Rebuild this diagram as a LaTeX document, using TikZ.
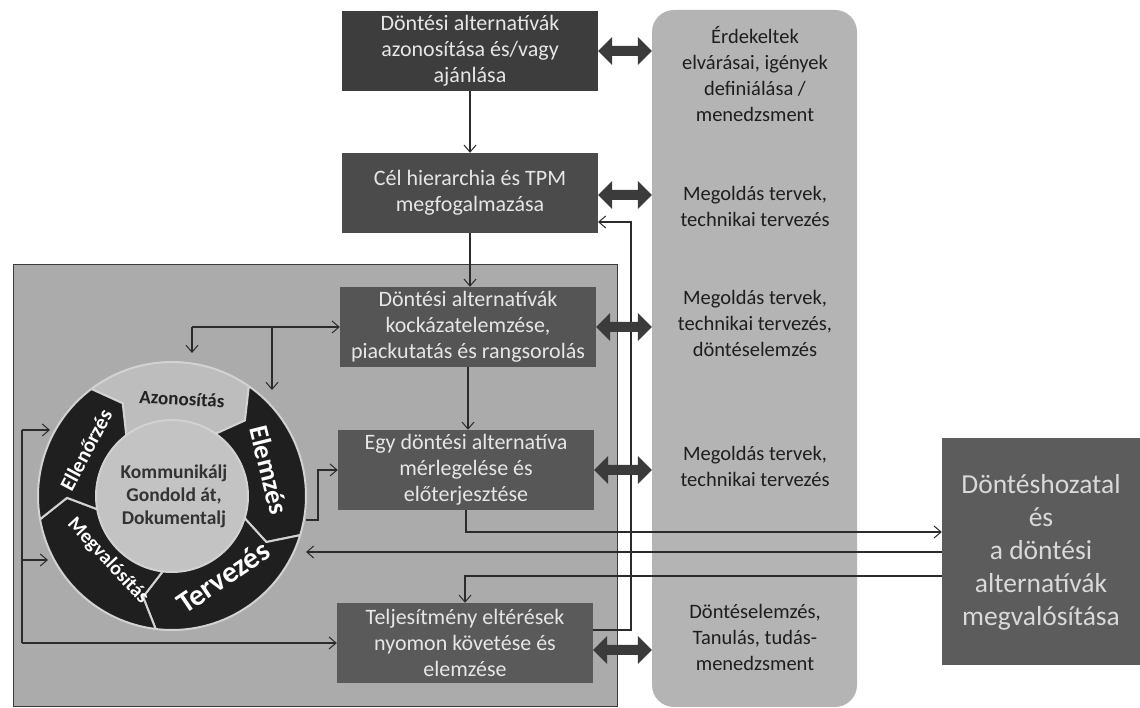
\documentclass[tikz,border=0pt]{standalone}
\usepackage{fontspec}
\setmainfont{Carlito}
\usetikzlibrary{calc,arrows.meta}
\definecolor{graypanel}{HTML}{ABABAB}
\definecolor{panelborder}{HTML}{3A3A3A}
\definecolor{rightpanel}{HTML}{B4B4B4}
\definecolor{bonec}{HTML}{3D3D3D}
\definecolor{btwoc}{HTML}{4B4B4B}
\definecolor{bthreec}{HTML}{555555}
\definecolor{bfourc}{HTML}{575757}
\definecolor{bfivec}{HTML}{5A5A5A}
\definecolor{dboxc}{HTML}{5C5C5C}
\definecolor{boxtext}{HTML}{E6E6E6}
\definecolor{dtext}{HTML}{D9D9D9}
\definecolor{ptextc}{HTML}{1E1E1E}
\definecolor{linec}{HTML}{2B2B2B}
\definecolor{dblc}{HTML}{3B3B3B}
\definecolor{segdark}{HTML}{1F1F1F}
\definecolor{azc}{HTML}{BDBDBD}
\definecolor{centc}{HTML}{C3C3C3}
\definecolor{gapc}{HTML}{D2D2D2}
\definecolor{ctext}{HTML}{333333}
\definecolor{ringdark}{HTML}{222222}
\newcommand{\dblarrow}[2]{%
  \fill[dblc] (#1) -- ++(14,14) -- ++(0,-9) -- ($(#2)+(-14,5)$) -- ++(0,9) -- (#2)
    -- ++(-14,-14) -- ++(0,9) -- ($(#1)+(14,-5)$) -- ++(0,-9) -- cycle;}
\newcommand{\ringseg}[3]{%
  \filldraw[fill=#3, draw=gapc, line width=2pt, line join=round]
    ($(cc)+(#1:134)$) arc[start angle=#1, end angle=#2, radius=134]
    -- ($(cc)+({#2-9}:105)$) -- ($(cc)+(#2:76)$)
    arc[start angle=#2, end angle=#1, radius=76]
    -- ($(cc)+({#1-9}:105)$) -- cycle;}
\begin{document}
\begin{tikzpicture}[x=1pt,y=1pt,
  box/.style={fill=#1, minimum width=256pt, minimum height=80pt, inner sep=2pt,
    align=center, text=boxtext, font=\fontsize{22}{26}\selectfont},
  ptext/.style={align=center, text=ptextc, font=\fontsize{20.5}{26}\selectfont},
  ringlbl/.style={inner sep=0pt, text=white, font=\fontsize{#1}{#1}\selectfont\bfseries},
  conn/.style={draw=linec, line width=1.1pt},
  arr/.style={conn, -{Straight Barb[length=7pt,width=12pt,line width=1pt]}},
]
\useasboundingbox (0,0) rectangle (1140,708);
\fill[white] (0,0) rectangle (1140,708);

% panels
\node[draw=panelborder, line width=0.8pt, fill=graypanel, minimum width=604pt,
  minimum height=442pt, inner sep=0pt] (lp) at (315,223) {};
\node[fill=rightpanel, rounded corners=22pt, minimum width=205pt,
  minimum height=697pt, inner sep=0pt] (rp) at (754.5,349.5) {};

% panel texts
\node[ptext] (t1) at (755,634) {Érdekeltek\\elvárásai, igények\\definiálása /\\menedzsment};
\node[ptext] (t2) at (755,502) {Megoldás tervek,\\technikai tervezés};
\node[ptext] (t3) at (755,385) {Megoldás tervek,\\technikai tervezés,\\döntéselemzés};
\node[ptext] (t4) at (755,242) {Megoldás tervek,\\technikai tervezés};
\node[ptext] (t5) at (755,71) {Döntéselemzés,\\Tanulás, tudás-\\menedzsment};

% ring
\coordinate (cc) at (172,212);
\fill[centc] (cc) circle (76);
\ringseg{127}{55}{azc}
\ringseg{55}{-17}{segdark}
\ringseg{-17}{-97}{segdark}
\ringseg{-97}{-170}{segdark}
\ringseg{190}{127}{segdark}
\node[align=center, font=\fontsize{19.5}{23}\selectfont\bfseries, text=ctext] (ctr)
  at (174,212) {Kommunikálj\\Gondold át,\\Dokumentalj};
\node[ringlbl=19, text=ringdark, rotate=-3] (lAz) at (182,309) {Azonosítás};
\node[ringlbl=27, rotate=-76] (lEl) at (269,238) {Elemzés};
\node[ringlbl=30, rotate=34] (lTe) at (223,131) {Tervezés};
\node[ringlbl=20, rotate=-47] (lMe) at (108,147) {Megvalósítás};
\node[ringlbl=21, rotate=62] (lEn) at (86,258) {Ellenőrzés};

% connectors (behind boxes)
\coordinate (fbx) at (631,0);
\coordinate (fbs) at (592.5,78);
\draw[arr] (fbs) -- (fbs -| fbx) |- (598,486);
\node[box=dboxc, minimum width=198pt, minimum height=227pt, text=dtext,
  font=\fontsize{27.5}{33}\selectfont] (D) at (1041,156)
  {Döntéshozatal\\és\\a döntési\\alternatívák\\megvalósítása};
\coordinate (dIn) at ($(D.west)+(0,20)$);
\coordinate (dOut) at ($(D.west)+(0,-24)$);
\coordinate (cyR) at (306,156);
\draw[arr] (D.west) -- (cyR);

% boxes
\node[box=bonec] (b1) at (470,657) {Döntési alternatívák\\azonosítása és/vagy\\ajánlása};
\node[box=btwoc] (b2) at (470,515) {Cél hierarchia és TPM\\megfogalmazása};
\node[box=bthreec] (b3) at (468,381) {Döntési alternatívák\\kockázatelemzése,\\piackutatás és rangsorolás};
\node[box=bfourc] (b4) at (466,238) {Egy döntési alternatíva\\mérlegelése és\\előterjesztése};
\node[box=bfivec] (b5) at (465,65) {Teljesítmény eltérések\\nyomon követése és\\elemzése};

\draw[arr] (b1.south) -- (b2.north);
\draw[arr] (b2.south) -- (b2.south |- b3.north);
\draw[arr] (b3.south) -- (b3.south |- b4.north);
\draw[arr] (b4.south) |- (dIn);
\draw[arr] (dOut) -| (b5.north);

% cycle connectors
\coordinate (lj) at (192,381);
\coordinate (lk) at (272,381);
\coordinate (azIn) at (192,355);
\coordinate (elIn) at (272,318);
\draw[arr] (lj) -- (b3.west);
\draw[arr] (lj) -- (azIn);
\draw[arr] (lk) -- (elIn);
\coordinate (elOut) at (306,188);
\draw[arr] (elOut) -- ++(12,0) |- (b4.west);
\coordinate (lt) at (22,278);
\coordinate (lm) at (22,148);
\coordinate (lb) at (22,65);
\coordinate (ellIn) at (50,278);
\coordinate (megIn) at (48,148);
\draw[conn] (lt) -- (lb);
\draw[arr] (lt) -- (ellIn);
\draw[arr] (lm) -- (megIn);
\draw[arr] (lb) -- (b5.west);

% double arrows
\coordinate (a1l) at (b1.east); \coordinate (a1r) at (b1.east -| rp.west);
\coordinate (a2l) at ($(b2.east)+(0,-2)$); \coordinate (a2r) at (a2l -| rp.west);
\coordinate (a3l) at (b3.east); \coordinate (a3r) at (b3.east -| rp.west);
\coordinate (a4l) at (b4.east); \coordinate (a4r) at (b4.east -| rp.west);
\coordinate (a5l) at ($(b5.east)+(0,-7)$); \coordinate (a5r) at (a5l -| rp.west);
\dblarrow{a1l}{a1r}
\dblarrow{a2l}{a2r}
\dblarrow{a3l}{a3r}
\dblarrow{a4l}{a4r}
\dblarrow{a5l}{a5r}
\end{tikzpicture}
\end{document}
